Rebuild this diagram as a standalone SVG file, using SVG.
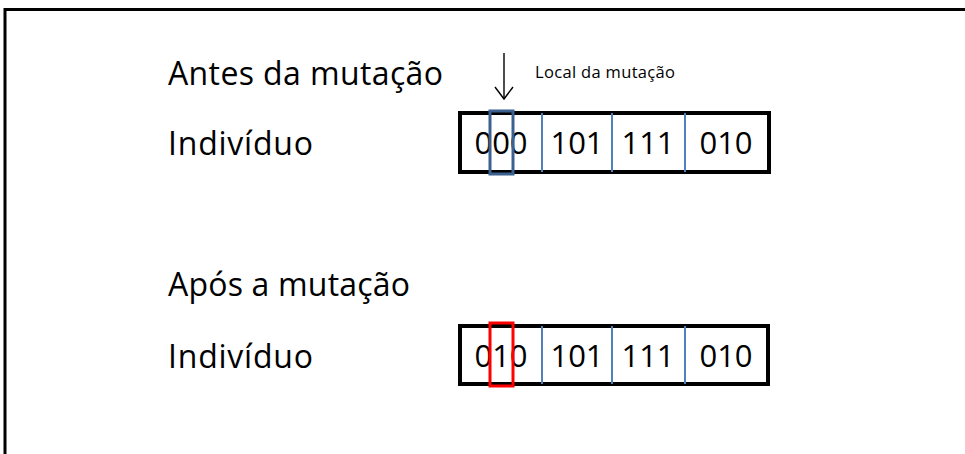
<svg xmlns="http://www.w3.org/2000/svg" width="965" height="454" viewBox="0 0 965 454">
<defs>
<style>
.t{font-family:"Open Sans","Liberation Sans",sans-serif;font-size:32px;fill:#000}
.d{font-family:"Open Sans","Liberation Sans",sans-serif;font-size:31px;fill:#000;text-anchor:middle}
.s{font-family:"Open Sans","Liberation Sans",sans-serif;font-size:16.5px;fill:#000}
.box{fill:#fff;stroke:#000;stroke-width:4}
.sep{stroke:#4f81bd;stroke-width:2}
.arr{fill:none;stroke:#000;stroke-width:1.4}
</style>
</defs>
<rect width="965" height="454" fill="#fff"/>
<path d="M5,454 V9.5 H965" fill="none" stroke="#000" stroke-width="3"/>
<g id="labels">
<text class="t" x="168" y="85" textLength="275" lengthAdjust="spacing">Antes da mutação</text>
<text class="t" x="168" y="155" textLength="145" lengthAdjust="spacing">Indivíduo</text>
<text class="t" x="168" y="296" textLength="242" lengthAdjust="spacing">Após a mutação</text>
<text class="t" x="168" y="368" textLength="145" lengthAdjust="spacing">Indivíduo</text>
<text class="s" x="535" y="78" textLength="140" lengthAdjust="spacing">Local da mutação</text>
</g>
<g id="connectors">
<line class="arr" x1="504" y1="53" x2="504" y2="98"/>
<path class="arr" d="M495,87 L504,99 L513,87"/>
</g>
<g id="before">
<rect class="box" x="460" y="113" width="309" height="59"/>
<line class="sep" x1="542" y1="113" x2="542" y2="172"/>
<line class="sep" x1="612" y1="113" x2="612" y2="172"/>
<line class="sep" x1="685" y1="113" x2="685" y2="172"/>
<text class="d" x="501" y="154">000</text>
<text class="d" x="577" y="154">101</text>
<text class="d" x="648" y="154">111</text>
<text class="d" x="726" y="154">010</text>
<rect x="490" y="111" width="23" height="63" fill="none" stroke="#3c6190" stroke-width="3"/>
</g>
<g id="after">
<rect class="box" x="460" y="326" width="308" height="58"/>
<line class="sep" x1="542" y1="326" x2="542" y2="384"/>
<line class="sep" x1="612" y1="326" x2="612" y2="384"/>
<line class="sep" x1="685" y1="326" x2="685" y2="384"/>
<text class="d" x="501" y="367">010</text>
<text class="d" x="577" y="367">101</text>
<text class="d" x="648" y="367">111</text>
<text class="d" x="726" y="367">010</text>
<rect x="490" y="323" width="23" height="63" fill="none" stroke="#ff0000" stroke-width="3"/>
</g>
</svg>
